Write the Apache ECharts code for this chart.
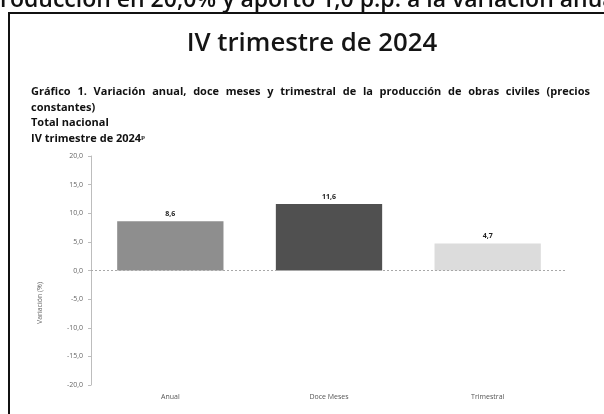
<!DOCTYPE html>
<html>
<head>
<meta charset="utf-8">
<script src="https://cdn.jsdelivr.net/npm/echarts@6/dist/echarts.min.js"></script>
<style>
html,body{margin:0;padding:0;background:#fff;}
#chart{width:604px;height:414px;}
</style>
</head>
<body>
<div id="chart"></div>
<script>
const categories = ['Anual', 'Doce Meses', 'Trimestral'];
const values = [8.6, 11.6, 4.7];
const barColors = ['#8e8e8e', '#505050', '#dcdcdc'];
const yTicks = { min: -20, max: 20, interval: 5 };
const headerText = 'roducción en 20,0% y aportó 1,0 p.p. a la variación anual';
const boxTitle = 'IV trimestre de 2024';
const subtitleLines = [
  'Gráfico 1. Variación anual, doce meses y trimestral de la producción de obras civiles (precios',
  'constantes)',
  'Total nacional',
  'IV trimestre de 2024ᵖ'
];
const yAxisName = 'Variación (%)';

const fmt = v => v.toFixed(1).replace('.', ',');

const chart = echarts.init(document.getElementById('chart'), null, { renderer: 'canvas' });

// subtitle block: first line is justified between x=31 and x=590
const subFont = 'bold 11px "Open Sans"';
const measureCtx = document.createElement('canvas').getContext('2d');
measureCtx.font = subFont;
const subtitleGraphics = [];
subtitleLines.forEach((t, i) => {
  const top = 86.5 + i * 15.5;
  if (i === 0) {
    const words = t.split(' ');
    const widths = words.map(w => measureCtx.measureText(w).width);
    const total = widths.reduce((a, b) => a + b, 0);
    const gap = (590 - 31 - total) / (words.length - 1);
    let x = 31;
    words.forEach((w, k) => {
      subtitleGraphics.push({ type: 'text', x: x, y: top, style: { text: w, font: subFont, fill: '#111' } });
      x += widths[k] + gap;
    });
  } else {
    subtitleGraphics.push({ type: 'text', x: 31, y: top, style: { text: t, font: subFont, fill: '#111' } });
  }
});

chart.setOption({
  backgroundColor: '#ffffff',
  animation: false,
  graphic: [
    {
      type: 'text', x: 0, y: -11,
      style: { text: headerText, font: '600 23px "Open Sans"', fill: '#111' }
    },
    {
      type: 'rect', shape: { x: 9, y: 13, width: 700, height: 500 },
      style: { fill: 'none', stroke: '#111', lineWidth: 2 }
    },
    {
      type: 'text', x: 312, y: 30.5,
      style: { text: boxTitle, font: '600 25.8px "Open Sans"', fill: '#151515', align: 'center' }
    },
    ...subtitleGraphics,
    {
      type: 'text', x: 40, y: 303, rotation: Math.PI / 2,
      style: { text: yAxisName, font: '7px "Open Sans"', fill: '#666', align: 'center', verticalAlign: 'middle' }
    }
  ],
  grid: { left: 91, right: 37, top: 156, bottom: 29, containLabel: false },
  xAxis: {
    type: 'category',
    data: categories,
    axisLine: { show: false, onZero: false },
    axisTick: { show: false },
    axisLabel: { color: '#555', fontSize: 7, fontFamily: 'Open Sans', margin: 8 }
  },
  yAxis: {
    type: 'value',
    min: yTicks.min, max: yTicks.max, interval: yTicks.interval,
    axisLine: { show: true, lineStyle: { color: '#bdbdbd', width: 1 } },
    axisTick: { show: true, length: 3, lineStyle: { color: '#bdbdbd' } },
    splitLine: { show: false },
    axisLabel: { color: '#666', fontSize: 7, fontFamily: 'Open Sans', margin: 8, formatter: fmt }
  },
  series: [{
    type: 'bar',
    data: values.map((v, i) => ({ value: v, itemStyle: { color: barColors[i] } })),
    barWidth: '67%',
    label: {
      show: true, position: 'top', distance: 4,
      fontSize: 7, fontWeight: 'bold', color: '#222', fontFamily: 'Open Sans',
      formatter: p => fmt(p.value)
    },
    markLine: {
      silent: true, symbol: 'none',
      label: { show: false },
      lineStyle: { color: '#a8a8a8', type: [2, 2], width: 1 },
      data: [{ yAxis: 0 }]
    }
  }]
});
</script>
</body>
</html>
